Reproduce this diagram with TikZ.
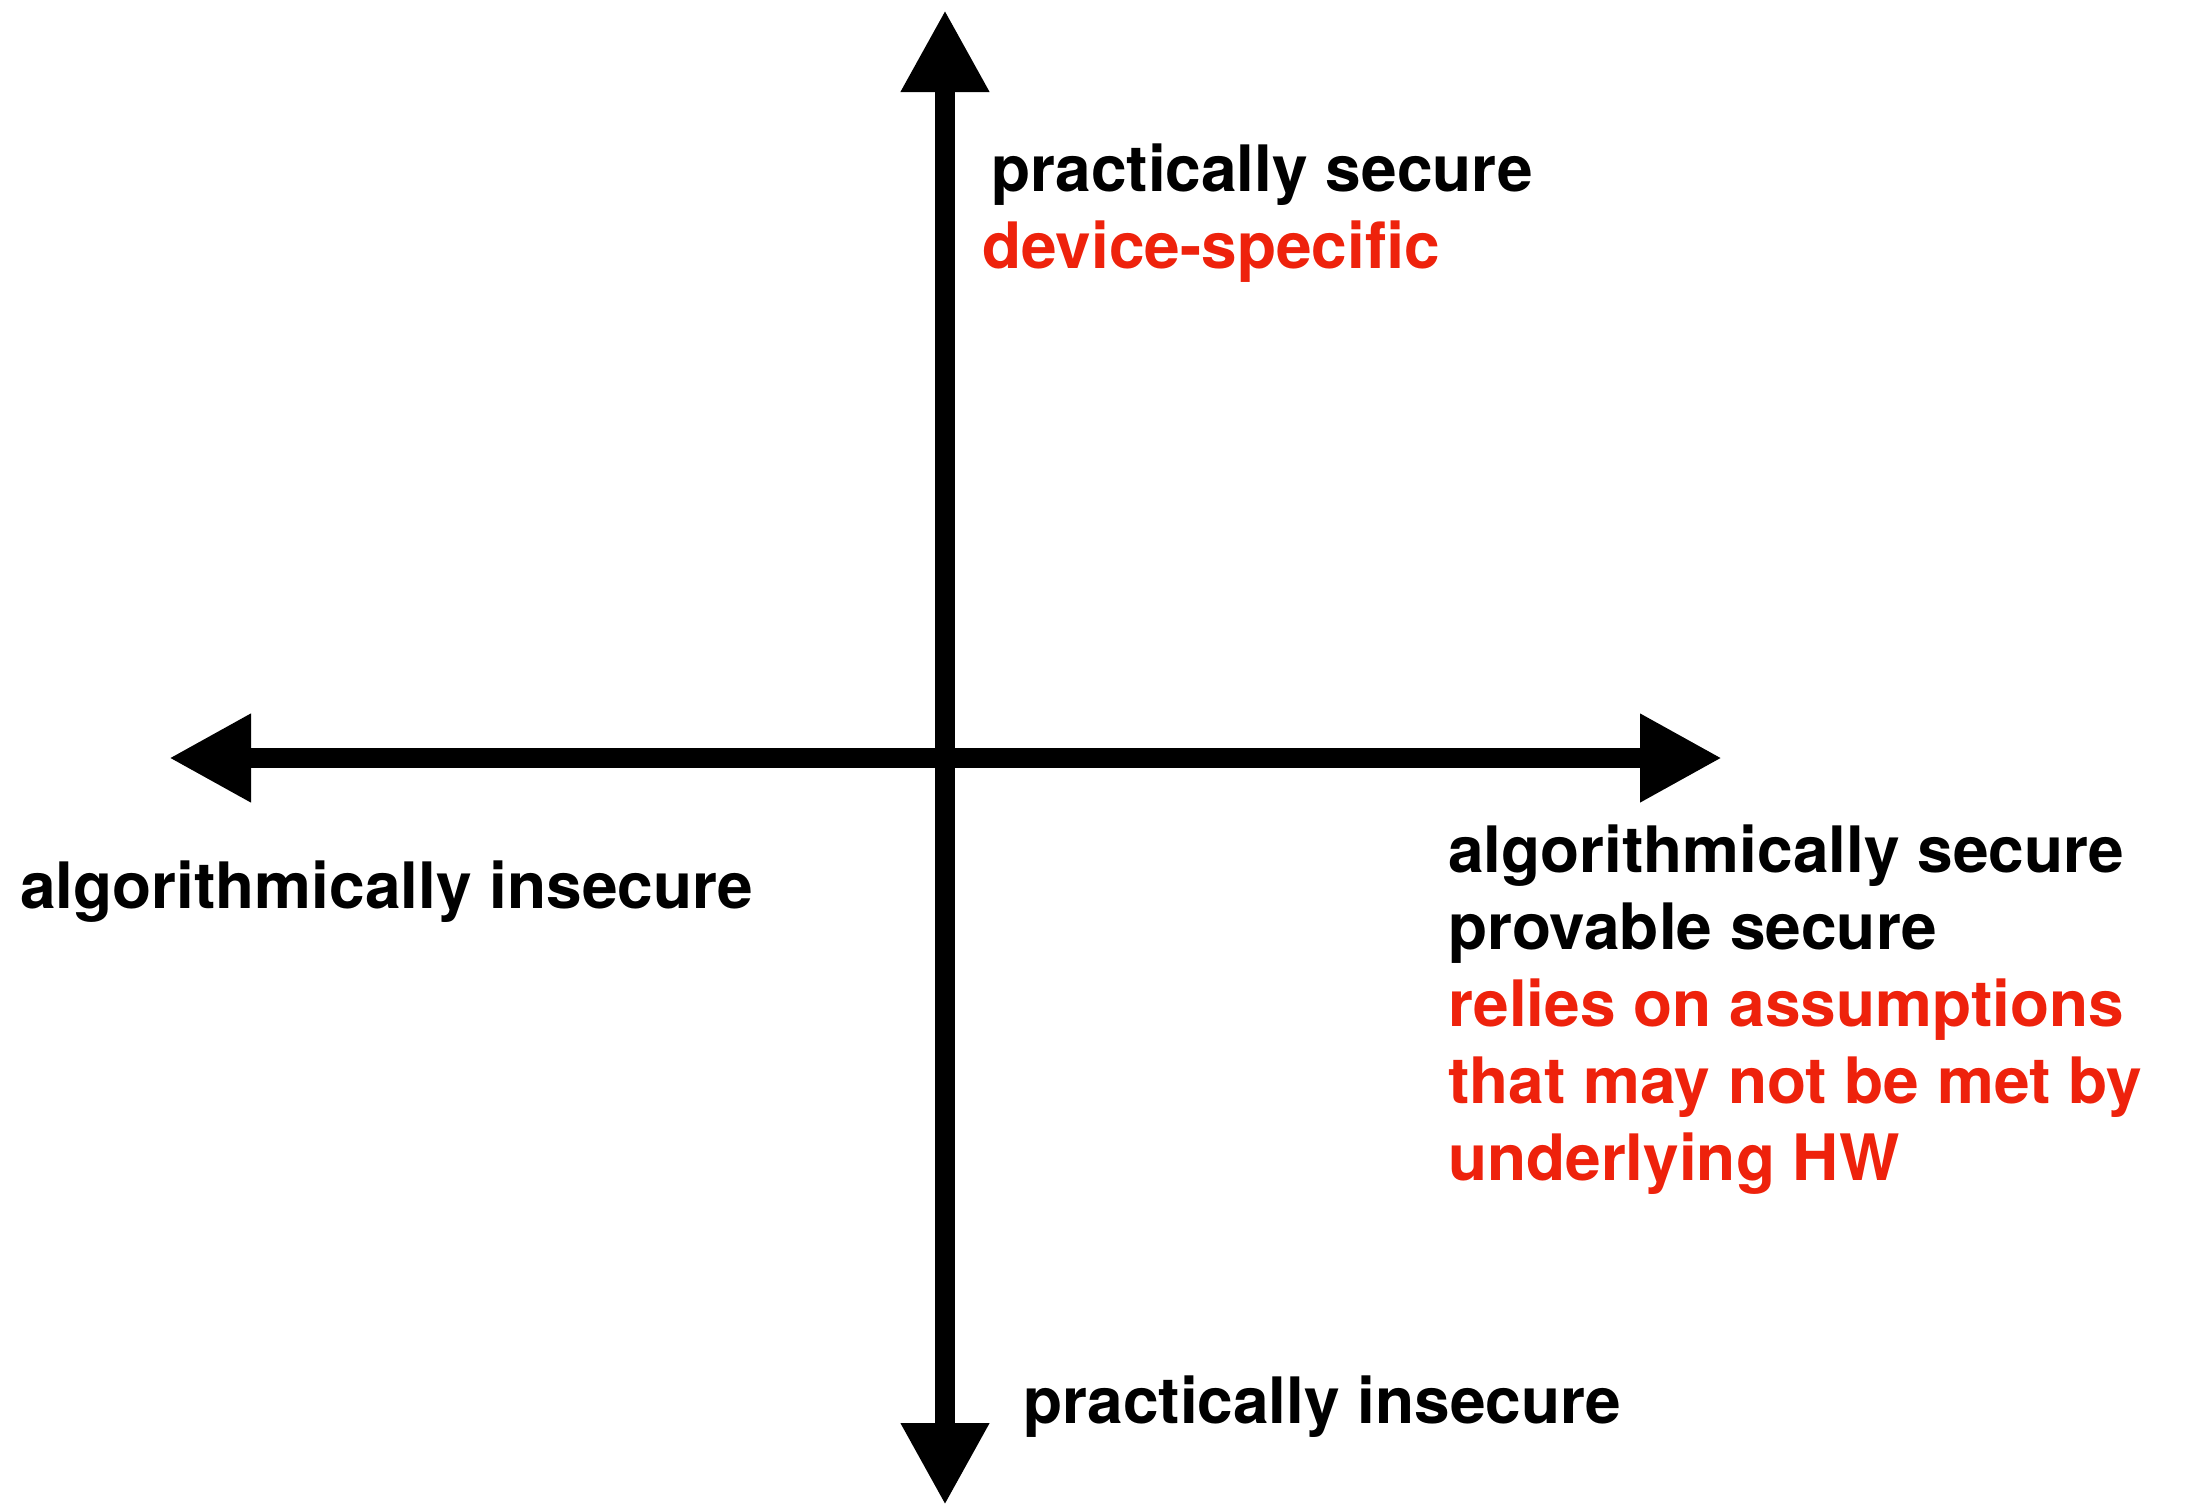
\documentclass[tikz,border=0pt]{standalone}
\usepackage{fontspec}
\setmainfont{TeX Gyre Heros}
\usetikzlibrary{arrows.meta}
\definecolor{kred}{RGB}{238,34,12}
\begin{document}
\begin{tikzpicture}[x=1pt,y=-1pt,
  axis/.style={line width=20pt, {Triangle[length=82pt,width=83pt]}-{Triangle[length=82pt,width=83pt]}},
  lbl/.style={anchor=base west, inner sep=0pt, font=\bfseries\fontsize{64}{77}\selectfont},
  redlbl/.style={lbl, text=kred}]
\useasboundingbox (0,0) rectangle (2187,1507);
\coordinate (top) at (945,10);
\coordinate (bot) at (945,1505);
\coordinate (lft) at (169,758);
\coordinate (rgt) at (1722,758);
\draw[axis] (bot) -- (top);
\draw[axis] (lft) -- (rgt);
\node[lbl] (ps) at (991,191) {practically secure};
\node[redlbl] (ds) at (982,268) {device-specific};
\node[lbl] (ai) at (20,908) {algorithmically insecure};
\node[lbl] (pi) at (1023,1423) {practically insecure};
\node[lbl] (as) at (1448,872) {algorithmically secure};
\node[lbl] (pv) at (1448,949) {provable secure};
\node[redlbl] (r1) at (1448,1026) {relies on assumptions};
\node[redlbl] (r2) at (1448,1103) {that may not be met by};
\node[redlbl] (r3) at (1448,1180) {underlying HW};
\end{tikzpicture}
\end{document}
